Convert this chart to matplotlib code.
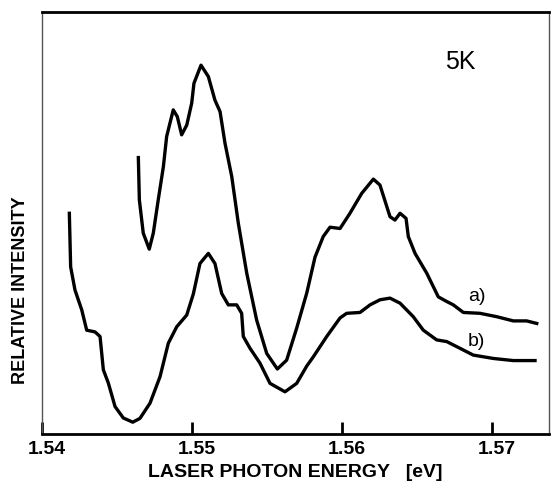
import matplotlib
matplotlib.use("Agg")
import matplotlib.pyplot as plt
import matplotlib.transforms as mtransforms

# Curve a) : laser photon energy [eV] vs relative intensity (arb. units)
energy_a = [1.54642, 1.54649, 1.54675, 1.54715, 1.54742, 1.54775, 1.54809, 1.54831,
            1.54875, 1.54902, 1.54931, 1.54965, 1.54998, 1.55013, 1.55060, 1.55109,
            1.55153, 1.55187, 1.55220, 1.55265, 1.55309, 1.55365, 1.55431, 1.55498,
            1.55569, 1.55631, 1.55698, 1.55765, 1.55820, 1.55875, 1.55920, 1.55987,
            1.56053, 1.56131, 1.56209, 1.56253, 1.56320, 1.56353, 1.56387, 1.56427,
            1.56442, 1.56487, 1.56565, 1.56642, 1.56698, 1.56742, 1.56809, 1.56920,
            1.57031, 1.57142, 1.57231, 1.57309]
intensity_a = [65.9, 55.5, 47.6, 43.8, 47.6, 55.5, 63.3, 70.5,
               76.8, 75.2, 70.9, 73.2, 78.4, 83.1, 87.4, 84.7,
               79.1, 76.4, 68.9, 61.0, 49.9, 38.1, 27.0, 19.1,
               15.4, 17.5, 25.1, 33.4, 41.9, 46.8, 49.0, 48.7,
               52.3, 57.0, 60.4, 59.0, 51.5, 50.7, 52.3, 51.1,
               46.8, 42.8, 38.1, 32.5, 31.4, 30.6, 28.8, 28.6,
               27.8, 26.8, 26.8, 26.1]

# Curve b)
energy_b = [1.54182, 1.54191, 1.54220, 1.54265, 1.54298, 1.54353, 1.54387, 1.54409,
            1.54442, 1.54487, 1.54542, 1.54605, 1.54653, 1.54720, 1.54787, 1.54842,
            1.54898, 1.54965, 1.55009, 1.55053, 1.55109, 1.55153, 1.55198, 1.55242,
            1.55298, 1.55331, 1.55342, 1.55387, 1.55453, 1.55520, 1.55620, 1.55698,
            1.55765, 1.55809, 1.55898, 1.55987, 1.56031, 1.56120, 1.56187, 1.56253,
            1.56320, 1.56387, 1.56475, 1.56542, 1.56631, 1.56698, 1.56787, 1.56875,
            1.57009, 1.57142, 1.57298]
intensity_b = [52.7, 39.6, 34.1, 29.4, 24.6, 24.2, 23.1, 15.2,
               12.1, 6.5, 3.8, 2.8, 3.7, 7.3, 13.6, 21.5,
               25.4, 28.2, 33.2, 40.4, 42.8, 40.4, 33.3, 30.6,
               30.6, 28.6, 23.1, 20.3, 16.8, 12.0, 10.0, 12.0,
               16.1, 18.3, 23.1, 27.5, 28.6, 28.8, 30.6, 31.8,
               32.2, 31.0, 27.8, 24.6, 22.3, 21.9, 20.3, 18.7,
               17.9, 17.4, 17.4]

xticks = [1.54, 1.55, 1.56, 1.57]
xticklabels = ["1.54", "1.55", "1.56", "1.57"]

fig = plt.figure(figsize=(5.53, 4.90), dpi=100)
ax = fig.add_axes([42/553, 56/490, 507/553, 422/490])

lw = 2.4
ax.plot(energy_a, intensity_a, color="black", lw=lw, solid_joinstyle="round", solid_capstyle="butt")
ax.plot(energy_b, intensity_b, color="black", lw=lw, solid_joinstyle="round", solid_capstyle="butt")

ax.set_xlim(1.54, 1.5738)
ax.set_ylim(0, 100)

for side in ["top", "bottom"]:
    ax.spines[side].set_linewidth(2.0)
    ax.spines[side].set_color("black")
for side in ["left", "right"]:
    ax.spines[side].set_linewidth(1.0)
    ax.spines[side].set_color("#555555")
    ax.spines[side].set_linestyle((0, (2, 1)))

ax.set_yticks([])
ax.set_xticks(xticks)
ax.set_xticklabels(xticklabels, fontsize=14, fontweight="bold", family="Liberation Sans")
ax.tick_params(axis="x", direction="in", length=9, width=2, pad=5)
offset = mtransforms.ScaledTranslation(5/100, 0, fig.dpi_scale_trans)
for lab in ax.get_xticklabels():
    lab.set_transform(lab.get_transform() + offset)

fig.text(295/553, 1 - 472/490, "LASER PHOTON ENERGY   [eV]", ha="center", va="center",
         fontsize=14, fontweight="bold", family="Liberation Sans")
fig.text(21/553, 1 - 290/490, "RELATIVE INTENSITY", ha="center", va="center", rotation=90,
         fontsize=13, fontweight="bold", family="Liberation Sans")

ax.text(1.56787, 88.2, "5K", ha="center", va="center", fontsize=18, family="Liberation Sans")
ax.text(1.56898, 32.5, "a)", ha="center", va="center", fontsize=14, family="Liberation Sans")
ax.text(1.56898, 21.9, "b)", ha="center", va="center", fontsize=14, family="Liberation Sans")

fig.savefig("out.png", dpi=100)
